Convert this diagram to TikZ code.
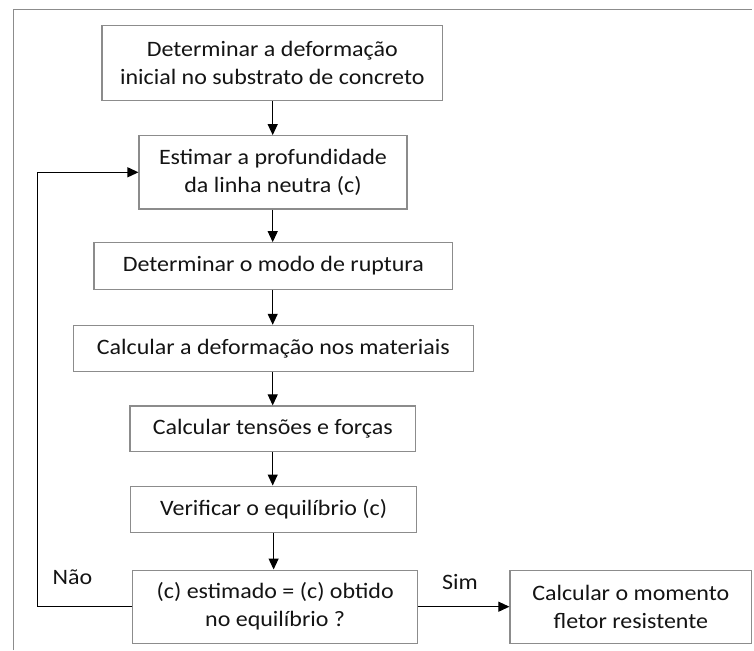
\documentclass[tikz,border=0pt]{standalone}
\usepackage{fontspec}
\setmainfont[FakeStretch=1.09]{Carlito}
\usetikzlibrary{arrows.meta}
\definecolor{boxgray}{HTML}{8C8C8C}
\definecolor{txt}{HTML}{141414}
\begin{document}
\begin{tikzpicture}[x=1pt,y=-1pt,
  box/.style={draw=boxgray, line width=1.1pt, align=center, inner sep=0pt, text=txt,
    font=\fontsize{22}{28}\selectfont},
  conn/.style={line width=1.1pt, -{Triangle[length=11pt,width=10pt]}},
  lbl/.style={text=txt, font=\fontsize{22}{28}\selectfont, inner sep=0pt}]
\useasboundingbox (0,0) rectangle (754,650);
% frame
\draw[boxgray, line width=1.2pt] (13.3,650) -- (13.3,9.5) -- (752,9.5);
% boxes
\node[box, minimum width=340.7pt, minimum height=74.7pt] (b1) at (272.3,63.3) {Determinar a deformação\\inicial no substrato de concreto};
\node[box, minimum width=268pt, minimum height=73.3pt] (b2) at (273,172.3) {Estimar a profundidade\\da linha neutra (c)};
\node[box, minimum width=358.7pt, minimum height=46.6pt] (b3) at (273.3,266) {Determinar o modo de ruptura};
\node[box, minimum width=400pt, minimum height=46.4pt] (b4) at (273.3,348.5) {Calcular a deformação nos materiais};
\node[box, minimum width=285.7pt, minimum height=45.7pt] (b5) at (272.8,428.8) {Calcular tensões e forças};
\node[box, minimum width=286pt, minimum height=46.3pt] (b6) at (273.7,509.2) {Verificar o equilíbrio (c)};
\node[box, minimum width=285pt, minimum height=73.3pt] (b7) at (275.2,606.7) {(c) estimado = (c) obtido\\no equilíbrio ?};
\node[box, minimum width=241.7pt, minimum height=73.3pt] (b8) at (630.8,606.7) {Calcular o momento\\fletor resistente};
% labels
\node[lbl] (nao) at (72.5,577) {Não};
\node[lbl] (sim) at (460,582) {Sim};
% connectors
\draw[conn] (b1.south -| 272.7,0) -- (b2.north -| 272.7,0);
\draw[conn] (b2.south -| 272.7,0) -- (b3.north -| 272.7,0);
\draw[conn] (b3.south -| 272.7,0) -- (b4.north -| 272.7,0);
\draw[conn] (b4.south -| 272.7,0) -- (b5.north -| 272.7,0);
\draw[conn] (b5.south -| 272.7,0) -- (b6.north -| 272.7,0);
\draw[conn] (b6.south -| 273.6,0) -- (b7.north -| 273.6,0);
\draw[conn] (b7.east) -- (b8.west);
\coordinate (lp) at (37.7,606.7);
\draw[conn] (b7.west) -- (lp) |- (b2.west);
\end{tikzpicture}
\end{document}
